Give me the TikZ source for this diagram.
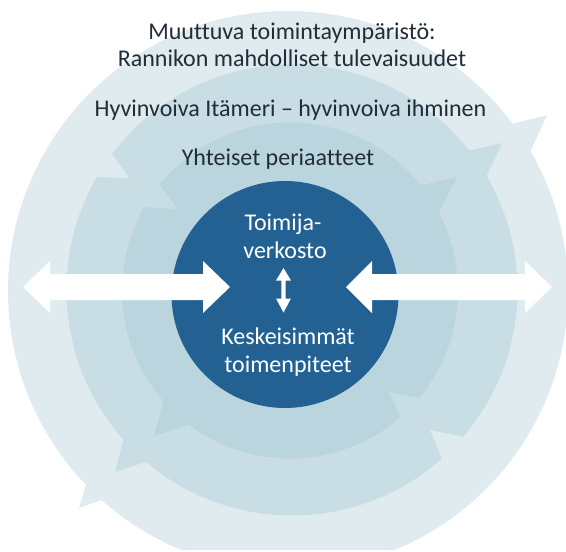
\documentclass[tikz,border=0pt]{standalone}
\usepackage{fontspec}
\setmainfont{Carlito}[Ligatures=NoCommon]
\usetikzlibrary{calc}
\definecolor{ringA}{RGB}{223,235,238}
\definecolor{ringB}{RGB}{201,222,228}
\definecolor{ringC}{RGB}{186,213,221}
\definecolor{core}{RGB}{35,97,146}
\definecolor{ink}{RGB}{33,45,56}
\begin{document}
\begin{tikzpicture}[x=1pt,y=-1pt,
  lbl/.style={font=\fontsize{24}{27}\selectfont, text=ink, anchor=base, inner sep=0pt},
  clbl/.style={lbl, text=white},
  whitearrow/.style={fill=white}]
\useasboundingbox (0,0) rectangle (566,552);
\coordinate (cA) at (288,291);
\coordinate (cB) at (292,290);
\coordinate (cC) at (290,290.5);
\coordinate (cD) at (285,294.5);
% outer (light) ring
\begin{scope}
  \clip (0,0) rectangle (566,549);
  \fill[ringA] (cA) circle (280pt);
\end{scope}
\coordinate (aT1) at (547,115);
\coordinate (aT2) at (79,508);
\fill[ringA] (aT1) -- ($(aT1)!1.5!(515,123)$) -- ($(aT1)!1.5!(532,148)$) -- cycle;
\fill[ringA] (aT2) -- ($(aT2)!1.5!(88,478)$) -- ($(aT2)!1.5!(110,497)$) -- cycle;
% middle ring
\fill[ringB] (cB) circle (225.5pt);
\coordinate (bT1) at (502,143);
\coordinate (bT2) at (115,472);
\fill[ringB] (bT1) -- ($(bT1)!1.5!(472,150)$) -- ($(bT1)!1.5!(488,173)$) -- cycle;
\fill[ringB] (bT2) -- ($(bT2)!1.5!(123,442)$) -- ($(bT2)!1.5!(145,462)$) -- cycle;
% notches of the light ring into the middle ring
\coordinate (aN1) at (129,178);
\coordinate (aN2) at (430,430);
\fill[ringA] (aN1) -- ($(aN1)!1.3!(111,153)$) -- ($(aN1)!1.3!(95,177)$) -- cycle;
\fill[ringA] (aN2) -- ($(aN2)!1.3!(442,458)$) -- ($(aN2)!1.3!(463,437)$) -- cycle;
% inner ring
\fill[ringC] (cC) circle (168pt);
\coordinate (cT1) at (457,177);
\coordinate (cT2) at (154,436);
\fill[ringC] (cT1) -- ($(cT1)!1.5!(422,185)$) -- ($(cT1)!1.5!(440,210)$) -- cycle;
\fill[ringC] (cT2) -- ($(cT2)!1.5!(163,403)$) -- ($(cT2)!1.5!(187,425)$) -- cycle;
% notches of the middle ring into the inner ring
\coordinate (bN1) at (177,209);
\coordinate (bN2) at (389,392);
\fill[ringB] (bN1) -- ($(bN1)!1.3!(160,185)$) -- ($(bN1)!1.3!(143,207)$) -- cycle;
\fill[ringB] (bN2) -- ($(bN2)!1.3!(401,418)$) -- ($(bN2)!1.3!(420,398)$) -- cycle;
% core
\node[circle, fill=core, minimum size=227pt, inner sep=0pt] (core) at (cD) {};
% white arrows
\fill[whitearrow] (23,287) -- (50,261) -- (50,274) -- (203,274) -- (203,261) -- (230,287)
  -- (203,313) -- (203,300) -- (50,300) -- (50,313) -- cycle;
\fill[whitearrow] (346,287) -- (372,261) -- (372,274) -- (525,274) -- (525,261) -- (552,287)
  -- (525,313) -- (525,300) -- (372,300) -- (372,313) -- cycle;
\fill[whitearrow] (283.5,268) -- (291,280.5) -- (285.7,280.5) -- (285.7,298.5) -- (291,298.5)
  -- (283.5,312.5) -- (276,298.5) -- (281.3,298.5) -- (281.3,280.5) -- (276,280.5) -- cycle;
% texts
\node[lbl] (t1) at (292,39.3) {Muuttuva toimintaympäristö:};
\node[lbl] (t2) at (292,66.7) {Rannikon mahdolliset tulevaisuudet};
\node[lbl] (t3) at (290.5,116.7) {Hyvinvoiva Itämeri – hyvinvoiva ihminen};
\node[lbl] (t4) at (278,165.7) {Yhteiset periaatteet};
\node[clbl] (c1) at (283,230) {Toimija-};
\node[clbl] (c2) at (285,258.3) {verkosto};
\node[clbl] (c3) at (288,344.3) {Keskeisimmät};
\node[clbl] (c4) at (288,372.7) {toimenpiteet};
\end{tikzpicture}
\end{document}
